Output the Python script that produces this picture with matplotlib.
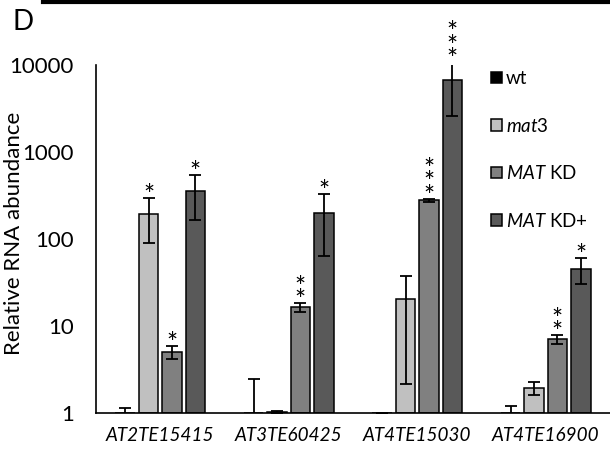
import matplotlib
matplotlib.use("Agg")
import matplotlib.pyplot as plt
from matplotlib.lines import Line2D
import numpy as np

plt.rcParams['font.family'] = ['Lato', 'DejaVu Sans']
plt.rcParams['mathtext.fontset'] = 'custom'
plt.rcParams['mathtext.it'] = 'Lato:italic'
plt.rcParams['mathtext.rm'] = 'Lato'

genes = ['AT2TE15415', 'AT3TE60425', 'AT4TE15030', 'AT4TE16900']
labels = ['wt', r'$\it{mat3}$', r'$\it{MAT}$ KD', r'$\it{MAT}$ KD+']
colors = ['#000000', '#c0c0c0', '#808080', '#595959']

# valores medios
wt = [1.0, 1.0, 1.0, 1.0]
mat3 = [192, 1.03, 20.4, 1.94]
kd = [5.0, 16.5, 280, 7.1]
kdp = [356, 199, 6700, 45]

# extremos de las barras de error (abajo / arriba)
wt_lo = [0.9, 0.6, 1.0, 0.85]
wt_hi = [1.14, 2.46, 1.0, 1.2]
mat3_lo = [90, 1.01, 2.15, 1.61]
mat3_hi = [296, 1.05, 37.6, 2.27]
kd_lo = [4.2, 14.5, 268, 6.2]
kd_hi = [5.9, 18.4, 292, 7.9]
kdp_lo = [165, 64, 2600, 30]
kdp_hi = [544, 329, 10800, 60]

# asteriscos de significancia
wt_stars = ['', '', '', '']
mat3_stars = ['*', '', '', '']
kd_stars = ['*', '**', '***', '**']
kdp_stars = ['*', '*', '***', '*']

series = [
    (wt, wt_lo, wt_hi, wt_stars),
    (mat3, mat3_lo, mat3_hi, mat3_stars),
    (kd, kd_lo, kd_hi, kd_stars),
    (kdp, kdp_lo, kdp_hi, kdp_stars),
]

fig = plt.figure(figsize=(6.1, 4.54), dpi=100)
ax = fig.add_axes([96/610, 1-413/454, 1-96/610, (413-65)/454])

x = np.arange(len(genes))
step = 0.182
width = 0.151
offsets = [-1.5*step, -0.5*step, 0.5*step, 1.5*step]

handles = []
for k in range(4):
    vals, lo, hi, stars = series[k]
    vals = np.array(vals)
    xs = x + offsets[k]
    b = ax.bar(xs, vals - 1, bottom=1, width=width, color=colors[k],
               edgecolor='black', linewidth=1.1, zorder=2)
    handles.append(b)
    err = [vals - np.array(lo), np.array(hi) - vals]
    ax.errorbar(xs, vals, yerr=err, fmt='none', ecolor='black',
                elinewidth=1.3, capsize=4.5, capthick=1.3, zorder=3)
    for i in range(len(genes)):
        if stars[i] != '':
            # asteriscos apilados, uno por linea
            ax.annotate('\n'.join(stars[i]), xy=(xs[i], hi[i]), xytext=(0, -8),
                        textcoords='offset points', ha='center', va='bottom',
                        fontsize=19, linespacing=0.42, annotation_clip=False)

ax.set_yscale('log')
ax.set_ylim(1, 10000)
ax.set_xlim(-0.5, 3.5)
ax.set_yticks([1, 10, 100, 1000, 10000])
ax.set_yticklabels(['1', '10', '100', '1000', '10000'])
ax.minorticks_off()
ax.set_xticks(x)
ax.set_xticklabels(genes, style='italic', fontsize=13.6)
ax.tick_params(axis='both', length=0)
ax.tick_params(axis='y', pad=16, labelsize=16)
ax.tick_params(axis='x', pad=10)
ax.set_ylabel('Relative RNA abundance', fontsize=16)
ax.yaxis.set_label_coords(-0.14, 0.517)

for s in ['top', 'right']:
    ax.spines[s].set_visible(False)
for s in ['left', 'bottom']:
    ax.spines[s].set_linewidth(1.2)

leg = ax.legend(handles, labels, loc='upper left', bbox_to_anchor=(491/610, 1-70/454),
                bbox_transform=fig.transFigure, frameon=False, fontsize=13.5,
                handlelength=0.58, handleheight=0.58, handletextpad=0.2,
                labelspacing=1.58, borderaxespad=0, borderpad=0)

fig.text(12/610, 1-22/454, 'D', fontsize=20, va='center', ha='left')
fig.add_artist(Line2D([43/610, 1], [1-1.5/454, 1-1.5/454], color='black', lw=3))

fig.savefig('out.png', dpi=100)
